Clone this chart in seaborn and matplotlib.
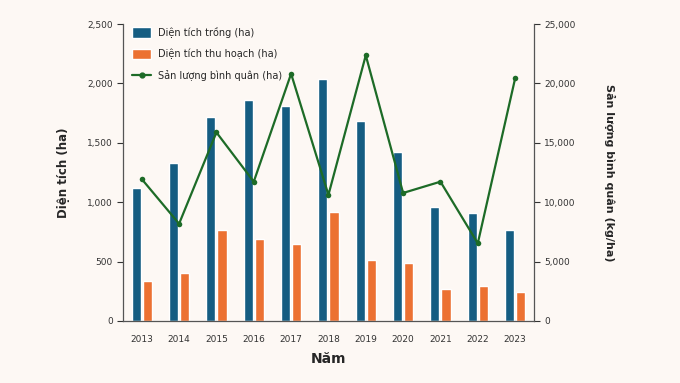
import numpy as np
import pandas as pd
import seaborn as sns
import matplotlib.pyplot as plt
from matplotlib.patches import Patch
from matplotlib.lines import Line2D

# Dữ liệu
nam = ['2013', '2014', '2015', '2016', '2017', '2018', '2019', '2020', '2021', '2022', '2023']
dien_tich_trong = [1122, 1330, 1717, 1863, 1807, 2040, 1683, 1425, 957, 909, 763]
dien_tich_thu_hoach = [334, 401, 769, 688, 651, 917, 511, 486, 267, 295, 244]
san_luong = [11950, 8190, 15880, 11730, 20820, 10620, 22370, 10780, 11730, 6540, 20430]

mau_xanh = '#155d82'
mau_cam = '#ec7132'
mau_luc = '#1d6b27'
nen = '#fdf8f4'

df = pd.DataFrame({
    'Năm': nam * 2,
    'Giá trị': dien_tich_trong + dien_tich_thu_hoach,
    'Loại': ['Diện tích trồng (ha)'] * len(nam) + ['Diện tích thu hoạch (ha)'] * len(nam),
})

sns.set_style('white')
plt.rcParams['font.family'] = ['DejaVu Sans']

fig = plt.figure(figsize=(6.8, 3.83), dpi=100, facecolor=nen)
ax = fig.add_axes([0.181, 0.162, 0.604, 0.775])
ax.set_facecolor(nen)

sns.barplot(data=df, x='Năm', y='Giá trị', hue='Loại', palette=[mau_xanh, mau_cam],
            width=0.6, gap=0.18, ax=ax, legend=False, saturation=1)

ax2 = ax.twinx()
sns.lineplot(x=np.arange(len(nam)), y=san_luong, color=mau_luc, marker='o', markersize=4,
             markeredgewidth=0, linewidth=1.6, ax=ax2)

ax.set_xlim(-0.5, len(nam) - 0.5)
ax.set_ylim(0, 2500)
ax2.set_ylim(0, 25000)
ax.set_yticks(range(0, 2501, 500))
ax2.set_yticks(range(0, 25001, 5000))
ax.yaxis.set_major_formatter(plt.FuncFormatter(lambda v, p: f'{int(v):,}'))
ax2.yaxis.set_major_formatter(plt.FuncFormatter(lambda v, p: f'{int(v):,}'))

for a in (ax, ax2):
    a.spines['top'].set_visible(False)
    for s in ('left', 'right', 'bottom'):
        a.spines[s].set_color('#555555')
        a.spines[s].set_linewidth(0.9)
    a.tick_params(axis='both', labelsize=6.5, colors='#333333', length=4, width=0.8, direction='out')
ax.spines['right'].set_visible(False)
ax2.spines['left'].set_visible(False)
ax2.spines['bottom'].set_visible(False)
ax.tick_params(axis='x', pad=6)

ax.set_xlabel('Năm', fontsize=10, fontweight='bold', labelpad=6)
ax.set_ylabel('Diện tích (ha)', fontsize=8.5, fontweight='bold', labelpad=12)
ax2.set_ylabel('Sản lượng bình quân (kg/ha)', fontsize=8, fontweight='bold', rotation=270, labelpad=28)

handles = [
    Patch(facecolor=mau_xanh, label='Diện tích trồng (ha)'),
    Patch(facecolor=mau_cam, label='Diện tích thu hoạch (ha)'),
    Line2D([0], [0], color=mau_luc, marker='o', markersize=3.5, linewidth=1.6, label='Sản lượng bình quân (ha)'),
]
ax2.legend(handles=handles, loc='upper left', frameon=False, fontsize=7, handlelength=2.0,
           handleheight=1.3, labelspacing=1.1, handletextpad=0.7, bbox_to_anchor=(0.0, 1.02))

fig.savefig('out.png', dpi=100, facecolor=nen)
